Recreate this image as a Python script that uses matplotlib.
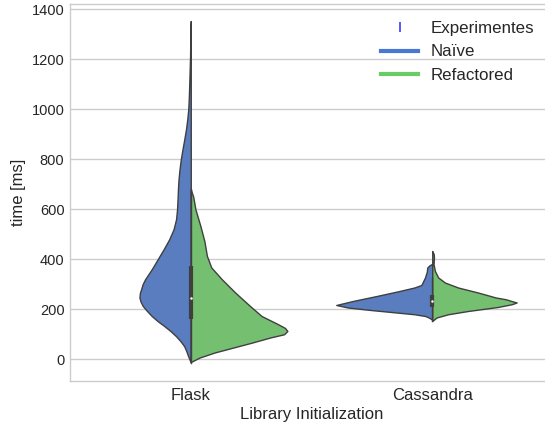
import colorsys
import matplotlib
matplotlib.use("Agg")
import matplotlib.pyplot as plt
from matplotlib.lines import Line2D
import matplotlib.colors as mcolors

# categories and hue levels
libraries = ["Flask", "Cassandra"]
versions = ["Naïve", "Refactored"]

# violin outlines: time [ms] and relative density
flask_naive_time = [-13, 13, 33, 53, 73, 93, 113, 133, 153, 173, 195, 213, 230, 247,
                    265, 280, 300, 320, 360, 400, 440, 480, 520, 560, 600, 640, 680,
                    720, 760, 800, 840, 880, 920, 960, 1000, 1050, 1100, 1207, 1300,
                    1353]
flask_naive_dens = [0, 2.7, 4.5, 6.7, 10.5, 15, 20.5, 26.7, 33.5, 39.3, 44.5, 48.3,
                    50.5, 51.7, 51.2, 50, 48.5, 46, 39.3, 33.3, 27.3, 21.7, 17.3,
                    14.8, 13.8, 13.3, 12.9, 12.3, 11.3, 10, 8.3, 6.5, 4.8, 3.5, 2.5,
                    1.9, 1.5, 0.7, 0.3, 0]

flask_refac_time = [-11, 7, 27, 47, 67, 87, 100, 113, 125, 140, 173, 213, 267, 320,
                    367, 413, 473, 533, 600, 650, 680]
flask_refac_dens = [0, 9, 24, 43, 62, 80, 94, 97.3, 95, 88, 71.3, 59.7, 44.7, 31.3,
                    20.7, 16.3, 13.7, 9.7, 4.7, 2.5, 0]

cass_naive_time = [158, 166, 173, 180, 187, 197, 207, 217, 233, 253, 273, 287, 297,
                   327, 350, 367, 375, 382]
cass_naive_dens = [0, 3, 7, 18, 36, 62, 85, 96.7, 80, 56, 33, 18, 11, 7.3, 5.5, 5,
                   3, 0]

cass_refac_time = [153, 167, 180, 193, 209, 220, 227, 240, 247, 267, 287, 307, 327,
                   353, 380, 407, 420, 433]
cass_refac_dens = [0, 4.3, 16, 36, 66, 80, 85, 74, 64, 46, 26, 12.7, 6, 2.7, 1.3,
                   1.7, 1.5, 0]

# inner box: q1, median, q3, whisker low, whisker high
box_q1 = [160, 211]
box_median = [244, 233]
box_q3 = [373, 257]
whisk_low = [-13, 153]
whisk_high = [680, 326]

profiles = [
    [(flask_naive_time, flask_naive_dens), (flask_refac_time, flask_refac_dens)],
    [(cass_naive_time, cass_naive_dens), (cass_refac_time, cass_refac_dens)],
]

plt.rcParams["font.family"] = ["Liberation Sans", "DejaVu Sans"]
plt.rcParams["text.color"] = "#262626"
plt.rcParams["axes.labelcolor"] = "#262626"
plt.rcParams["xtick.color"] = "#262626"
plt.rcParams["ytick.color"] = "#262626"


def desat(c, prop):
    r, g, b = mcolors.to_rgb(c)
    h, l, s = colorsys.rgb_to_hls(r, g, b)
    return colorsys.hls_to_rgb(h, l, s * prop)


line_colors = ["#4878d0", "#6acc64"]
fill_colors = [desat(c, 0.75) for c in line_colors]
edge = "#3f3f3f"

fig = plt.figure(figsize=(5.45, 4.23), dpi=100)
ax = fig.add_axes([70 / 545, 42 / 423, 483 / 545, 377 / 423])

all_max = max(max(d) for p in profiles for (_, d) in p)
half = 0.4

for i, pair in enumerate(profiles):
    for j, (t, d) in enumerate(pair):
        w = [v / all_max * half for v in d]
        if j == 0:
            left = [i - v for v in w]
            ax.fill_betweenx(t, left, i, facecolor=fill_colors[j], edgecolor=edge,
                             linewidth=1, zorder=2)
        else:
            right = [i + v for v in w]
            ax.fill_betweenx(t, i, right, facecolor=fill_colors[j], edgecolor=edge,
                             linewidth=1, zorder=2)
    ax.plot([i, i], [whisk_low[i], whisk_high[i]], color=edge, lw=1, zorder=3)
    ax.plot([i, i], [box_q1[i], box_q3[i]], color=edge, lw=3,
            solid_capstyle="butt", zorder=4)
    ax.plot(i, box_median[i], "o", color="white", ms=1.8, mew=0, zorder=5)

ax.set_xlim(-0.5, 1.5)
ax.set_ylim(-87, 1421)
ax.set_xticks([0, 1])
ax.set_xticklabels(libraries)
ax.set_yticks(range(0, 1401, 200))
ax.tick_params(axis="x", length=0, pad=5, labelsize=12)
ax.tick_params(axis="y", length=0, pad=4, labelsize=10.5)
ax.yaxis.grid(True, color="#cccccc", lw=1, zorder=0)
ax.xaxis.grid(False)
ax.set_axisbelow(True)
for s in ax.spines.values():
    s.set_color("#cccccc")
    s.set_linewidth(1)

ax.set_xlabel("Library Initialization", fontsize=12, labelpad=3)
ax.set_ylabel("time [ms]", fontsize=12)

handles = [
    Line2D([], [], linestyle="none", marker="|", color="#3a3aff", markersize=7,
           markeredgewidth=1.2),
    Line2D([], [], color=line_colors[0], lw=3),
    Line2D([], [], color=line_colors[1], lw=3),
]
fig.legend(handles, ["Experimentes"] + versions, loc="upper left",
           bbox_to_anchor=(381 / 545, 1 - 21 / 423), frameon=False,
           fontsize=12.2, borderpad=0, borderaxespad=0, labelspacing=0.5,
           handlelength=2.2, handletextpad=0.75)

fig.savefig("out.png", dpi=100)
